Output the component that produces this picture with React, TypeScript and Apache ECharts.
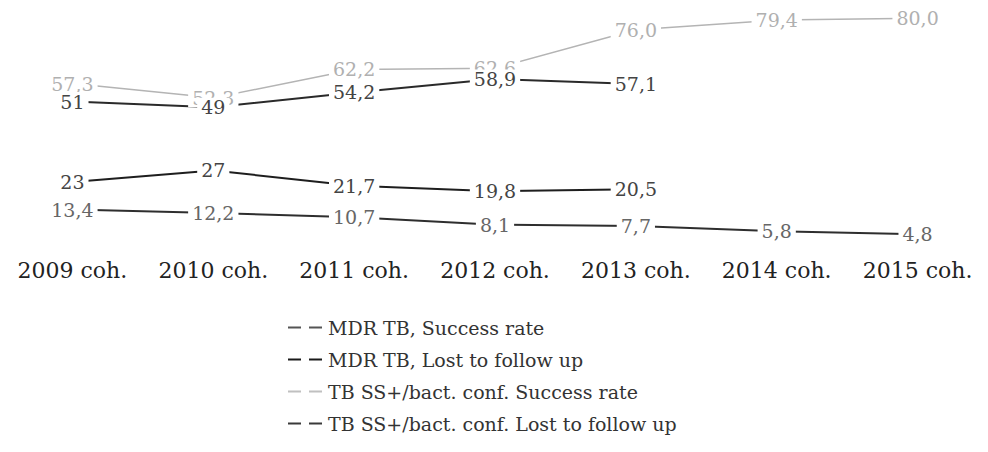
import React, { useEffect, useRef } from "react";
import * as echarts from "echarts";

const categories = ["2009 coh.", "2010 coh.", "2011 coh.", "2012 coh.", "2013 coh.", "2014 coh.", "2015 coh."];
const mdrSuccess = [51, 49, 54.2, 58.9, 57.1, null, null];
const mdrLost = [23, 27, 21.7, 19.8, 20.5, null, null];
const tbSuccess = [57.3, 52.3, 62.2, 62.6, 76.0, 79.4, 80.0];
const tbLost = [13.4, 12.2, 10.7, 8.1, 7.7, 5.8, 4.8];
const seriesNames = [
  "MDR TB, Success rate",
  "MDR TB, Lost to follow up",
  "TB SS+/bact. conf. Success rate",
  "TB SS+/bact. conf. Lost to follow up",
];

const FONT = "DejaVu Serif";
const ICON = "path://M0,0H13V2H0Z M21,0H34V2H21Z";

export default function App() {
  const ref = useRef<HTMLDivElement>(null);
  useEffect(() => {
    if (!ref.current) return;
    const chart = echarts.init(ref.current, null, { renderer: "svg" });
    const mk = (
      name: string,
      data: (number | null)[],
      lineColor: string,
      labelColor: string,
      iconColor: string,
      width: number,
      fixed: boolean
    ) => ({
      type: "line",
      name,
      data,
      symbol: "circle",
      symbolSize: 1,
      itemStyle: { color: iconColor },
      lineStyle: { color: lineColor, width },
      label: {
        show: true,
        position: "inside",
        fontFamily: FONT,
        fontSize: 19,
        color: labelColor,
        backgroundColor: "#fff",
        padding: [0, 4],
        formatter: (p: any) =>
          (fixed ? Number(p.value).toFixed(1) : String(p.value)).replace(".", ","),
      },
    });
    chart.setOption({
      animation: false,
      backgroundColor: "#fff",
      grid: { left: 2, right: 0, top: 4, bottom: 204 },
      xAxis: {
        type: "category",
        data: categories,
        boundaryGap: true,
        axisLine: { show: false },
        axisTick: { show: false },
        axisLabel: { interval: 0, fontFamily: FONT, fontSize: 22, color: "#222", margin: 11 },
      },
      yAxis: { type: "value", min: 0, max: 85, show: false, splitLine: { show: false } },
      legend: {
        orient: "vertical",
        left: 283,
        top: 313,
        itemWidth: 36,
        itemHeight: 2,
        itemGap: 13,
        textStyle: { fontFamily: FONT, fontSize: 19, color: "#333" },
        data: seriesNames.map((n) => ({ name: n, icon: ICON })),
      },
      series: [
        mk(seriesNames[2], tbSuccess, "#b4b4b4", "#b0b0b0", "#c0c0c0", 1.5, true),
        mk(seriesNames[0], mdrSuccess, "#2a2a2a", "#444", "#555", 2, false),
        mk(seriesNames[1], mdrLost, "#1e1e1e", "#444", "#1a1a1a", 2, false),
        mk(seriesNames[3], tbLost, "#2e2e2e", "#666", "#3a3a3a", 2, false),
      ],
    });
    return () => chart.dispose();
  }, []);
  return (
    <div
      ref={ref}
      style={{ position: "absolute", left: 0, top: 0, width: 988, height: 452 }}
    />
  );
}
